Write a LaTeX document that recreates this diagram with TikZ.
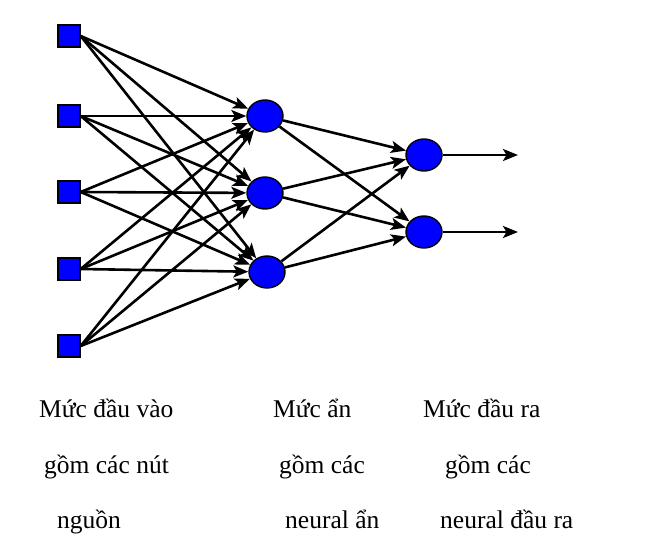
\documentclass[tikz,border=0pt]{standalone}
\usepackage{fontspec}
\setmainfont{Liberation Serif}
\usetikzlibrary{arrows.meta,shapes.geometric}
\begin{document}
\begin{tikzpicture}[x=1pt,y=-1pt,
  inp/.style={draw=black,fill=blue,line width=1.4pt,minimum size=22pt,inner sep=0pt},
  neu/.style={ellipse,draw=black,fill=blue,line width=1.4pt,minimum width=36pt,minimum height=32pt,inner sep=0pt},
  conn/.style={line width=2.6pt,-{Stealth[length=15pt,width=12pt,inset=3.5pt]}},
  lbl/.style={anchor=base west,inner sep=0pt,font=\fontsize{25.5}{30}\selectfont}]
\useasboundingbox (0,0) rectangle (661,556);
\node[inp] (i1) at (69,36) {};
\node[inp] (i2) at (69,116) {};
\node[inp] (i3) at (69,192) {};
\node[inp] (i4) at (69,269) {};
\node[inp] (i5) at (69,346) {};
\node[neu] (h1) at (265,116) {};
\node[neu] (h2) at (265,193) {};
\node[neu] (h3) at (267,272) {};
\node[neu] (o1) at (424,155) {};
\node[neu] (o2) at (424,232) {};
\coordinate (e1) at (518,155);
\coordinate (e2) at (518,232);
\foreach \i in {1,...,5}{
  \foreach \h in {1,2,3}{
    \draw[conn] (i\i.east) -- (h\h);
  }
}
\foreach \h in {1,2,3}{
  \foreach \o in {1,2}{
    \draw[conn] (h\h) -- (o\o);
  }
}
\draw[conn] (o1.east) -- (e1);
\draw[conn] (o2.east) -- (e2);
\node[lbl] (t11) at (39,417) {Mức đầu vào};
\node[lbl] (t12) at (44,473) {gồm các nút};
\node[lbl] (t13) at (57,528) {nguồn};
\node[lbl] (t21) at (273,417) {Mức ẩn};
\node[lbl] (t22) at (279,473) {gồm các};
\node[lbl] (t23) at (285,528) {neural ẩn};
\node[lbl] (t31) at (423,417) {Mức đầu ra};
\node[lbl] (t32) at (445,473) {gồm các};
\node[lbl] (t33) at (440,528) {neural đầu ra};
\end{tikzpicture}
\end{document}
